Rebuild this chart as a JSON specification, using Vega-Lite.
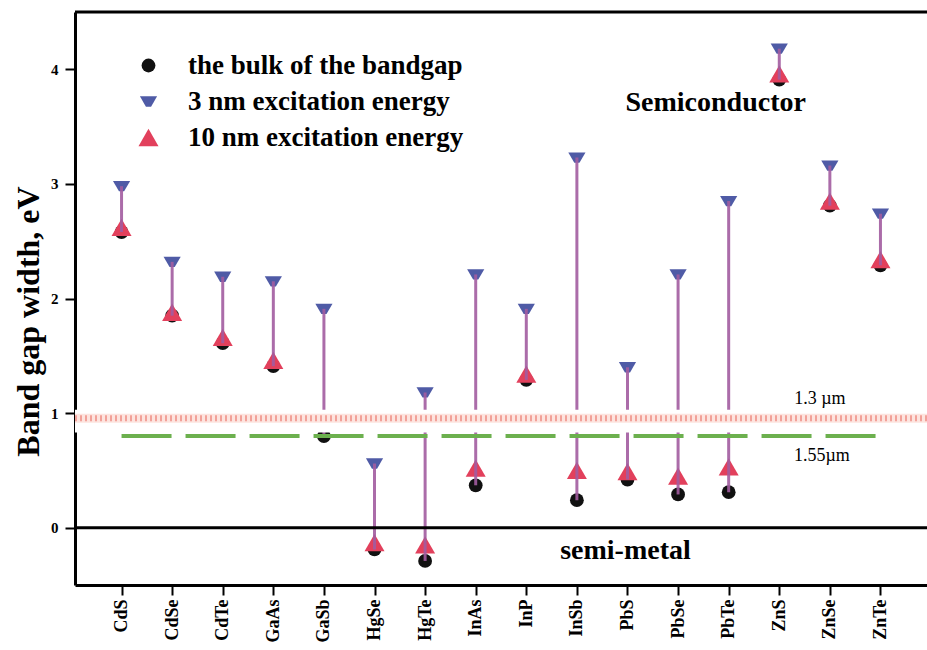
{
  "$schema": "https://vega.github.io/schema/vega-lite/v6.json",
  "width": 852,
  "height": 573,
  "autosize": {"type": "none"},
  "padding": {"left": 75, "top": 12, "right": 0, "bottom": 65},
  "background": "white",
  "config": {
    "view": {"stroke": null},
    "font": "Liberation Serif",
    "axis": {"zindex": 2}
  },
  "datasets": {
    "gaps": [
      {"compound": "CdS", "series": "the bulk of the bandgap", "energy": 2.58},
      {"compound": "CdS", "series": "3 nm excitation energy", "energy": 2.98},
      {"compound": "CdS", "series": "10 nm excitation energy", "energy": 2.62},
      {"compound": "CdSe", "series": "the bulk of the bandgap", "energy": 1.85},
      {"compound": "CdSe", "series": "3 nm excitation energy", "energy": 2.32},
      {"compound": "CdSe", "series": "10 nm excitation energy", "energy": 1.88},
      {"compound": "CdTe", "series": "the bulk of the bandgap", "energy": 1.61},
      {"compound": "CdTe", "series": "3 nm excitation energy", "energy": 2.19},
      {"compound": "CdTe", "series": "10 nm excitation energy", "energy": 1.66},
      {"compound": "GaAs", "series": "the bulk of the bandgap", "energy": 1.41},
      {"compound": "GaAs", "series": "3 nm excitation energy", "energy": 2.15},
      {"compound": "GaAs", "series": "10 nm excitation energy", "energy": 1.46},
      {"compound": "GaSb", "series": "the bulk of the bandgap", "energy": 0.8},
      {"compound": "GaSb", "series": "3 nm excitation energy", "energy": 1.91},
      {"compound": "HgSe", "series": "the bulk of the bandgap", "energy": -0.19},
      {"compound": "HgSe", "series": "3 nm excitation energy", "energy": 0.56},
      {"compound": "HgSe", "series": "10 nm excitation energy", "energy": -0.13},
      {"compound": "HgTe", "series": "the bulk of the bandgap", "energy": -0.29},
      {"compound": "HgTe", "series": "3 nm excitation energy", "energy": 1.18},
      {"compound": "HgTe", "series": "10 nm excitation energy", "energy": -0.15},
      {"compound": "InAs", "series": "the bulk of the bandgap", "energy": 0.37},
      {"compound": "InAs", "series": "3 nm excitation energy", "energy": 2.21},
      {"compound": "InAs", "series": "10 nm excitation energy", "energy": 0.52},
      {"compound": "InP", "series": "the bulk of the bandgap", "energy": 1.29},
      {"compound": "InP", "series": "3 nm excitation energy", "energy": 1.91},
      {"compound": "InP", "series": "10 nm excitation energy", "energy": 1.34},
      {"compound": "InSb", "series": "the bulk of the bandgap", "energy": 0.24},
      {"compound": "InSb", "series": "3 nm excitation energy", "energy": 3.23},
      {"compound": "InSb", "series": "10 nm excitation energy", "energy": 0.5},
      {"compound": "PbS", "series": "the bulk of the bandgap", "energy": 0.42},
      {"compound": "PbS", "series": "3 nm excitation energy", "energy": 1.4},
      {"compound": "PbS", "series": "10 nm excitation energy", "energy": 0.49},
      {"compound": "PbSe", "series": "the bulk of the bandgap", "energy": 0.29},
      {"compound": "PbSe", "series": "3 nm excitation energy", "energy": 2.21},
      {"compound": "PbSe", "series": "10 nm excitation energy", "energy": 0.45},
      {"compound": "PbTe", "series": "the bulk of the bandgap", "energy": 0.31},
      {"compound": "PbTe", "series": "3 nm excitation energy", "energy": 2.85},
      {"compound": "PbTe", "series": "10 nm excitation energy", "energy": 0.53},
      {"compound": "ZnS", "series": "the bulk of the bandgap", "energy": 3.91},
      {"compound": "ZnS", "series": "3 nm excitation energy", "energy": 4.18},
      {"compound": "ZnS", "series": "10 nm excitation energy", "energy": 3.96},
      {"compound": "ZnSe", "series": "the bulk of the bandgap", "energy": 2.81},
      {"compound": "ZnSe", "series": "3 nm excitation energy", "energy": 3.16},
      {"compound": "ZnSe", "series": "10 nm excitation energy", "energy": 2.85},
      {"compound": "ZnTe", "series": "the bulk of the bandgap", "energy": 2.29},
      {"compound": "ZnTe", "series": "3 nm excitation energy", "energy": 2.74},
      {"compound": "ZnTe", "series": "10 nm excitation energy", "energy": 2.34}
    ],
    "windows": [
      {"label": "1.3 µm", "energy": 0.954},
      {"label": "1.55µm", "energy": 0.8}
    ]
  },
  "data": {"name": "gaps"},
  "layer": [
    {
      "mark": {"type": "point", "filled": true, "opacity": 1, "strokeWidth": 0},
      "encoding": {
        "x": {
          "field": "compound",
          "type": "nominal",
          "sort": null,
          "scale": {
            "type": "point",
            "padding": 0.92,
            "domain": ["CdS", "CdSe", "CdTe", "GaAs", "GaSb", "HgSe", "HgTe", "InAs", "InP", "InSb", "PbS", "PbSe", "PbTe", "ZnS", "ZnSe", "ZnTe"]
          },
          "axis": {
            "title": null,
            "labelAngle": -90,
            "labelFont": "Liberation Serif",
            "labelFontWeight": "bold",
            "labelFontSize": 18,
            "labelColor": "black",
            "labelPadding": 4,
            "tickSize": 10,
            "tickWidth": 2,
            "tickColor": "black",
            "domainColor": "black",
            "domainWidth": 3,
            "grid": false
          }
        },
        "y": {
          "field": "energy",
          "type": "quantitative",
          "scale": {"domain": [-0.5, 4.5], "nice": false, "zero": false},
          "axis": {
            "title": "Band gap width, eV",
            "titleFont": "Liberation Serif",
            "titleFontWeight": "bold",
            "titleFontSize": 32,
            "titleColor": "black",
            "titleX": -30,
            "titleY": 309,
            "titleBaseline": "bottom",
            "values": [0, 1, 2, 3, 4],
            "format": "d",
            "labelFont": "Liberation Serif",
            "labelFontWeight": "bold",
            "labelFontSize": 15,
            "labelColor": "black",
            "labelPadding": 7,
            "tickSize": 10,
            "tickWidth": 2,
            "tickColor": "black",
            "domainColor": "black",
            "domainWidth": 3,
            "grid": false
          }
        },
        "color": {
          "field": "series",
          "type": "nominal",
          "scale": {
            "domain": ["the bulk of the bandgap", "3 nm excitation energy", "10 nm excitation energy"],
            "range": ["#111111", "#4f5ba6", "#e2405c"]
          },
          "legend": {
            "title": null, "orient": "none", "legendX": 60, "legendY": 40,
            "labelFont": "Liberation Serif", "labelFontWeight": "bold", "labelFontSize": 27,
            "labelColor": "black", "labelOffset": 26, "rowPadding": 8, "labelLimit": 600,
            "symbolStrokeWidth": 0, "padding": 0
          }
        },
        "shape": {
          "field": "series",
          "type": "nominal",
          "scale": {
            "domain": ["the bulk of the bandgap", "3 nm excitation energy", "10 nm excitation energy"],
            "range": ["circle", "M-1,-0.6L1,-0.6L0.3,0.6L-0.3,0.6Z", "triangle-up"]
          },
          "legend": {
            "title": null, "orient": "none", "legendX": 60, "legendY": 40,
            "labelFont": "Liberation Serif", "labelFontWeight": "bold", "labelFontSize": 27,
            "labelColor": "black", "labelOffset": 26, "rowPadding": 8, "labelLimit": 600,
            "symbolStrokeWidth": 0, "padding": 0
          }
        },
        "size": {
          "field": "series",
          "type": "nominal",
          "scale": {
            "domain": ["the bulk of the bandgap", "3 nm excitation energy", "10 nm excitation energy"],
            "range": [190, 400, 220]
          },
          "legend": {
            "title": null, "orient": "none", "legendX": 60, "legendY": 40,
            "labelFont": "Liberation Serif", "labelFontWeight": "bold", "labelFontSize": 27,
            "labelColor": "black", "labelOffset": 26, "rowPadding": 8, "labelLimit": 600,
            "symbolStrokeWidth": 0, "padding": 0
          }
        },
        "order": {"field": "series", "sort": "descending"}
      }
    },
    {
      "transform": [
        {
          "aggregate": [
            {"op": "min", "field": "energy", "as": "low"},
            {"op": "max", "field": "energy", "as": "high"}
          ],
          "groupby": ["compound"]
        }
      ],
      "mark": {"type": "rule", "color": "#a25ca0", "strokeWidth": 3, "opacity": 0.9},
      "encoding": {
        "x": {"field": "compound", "type": "nominal"},
        "y": {"field": "low", "type": "quantitative"},
        "y2": {"field": "high"}
      }
    },
    {
      "data": {"values": [{}]},
      "mark": {"type": "rect", "fill": "white"},
      "encoding": {
        "y": {"datum": 0.83},
        "y2": {"datum": 1.03}
      }
    },
    {
      "data": {"name": "windows"},
      "transform": [{"filter": "datum.energy > 0.9"}],
      "layer": [
        {
          "mark": {"type": "rule", "color": "#fde4df", "strokeWidth": 9},
          "encoding": {"y": {"field": "energy", "type": "quantitative"}}
        },
        {
          "mark": {"type": "rule", "color": "#f2a199", "strokeWidth": 6, "strokeDash": [2, 3]},
          "encoding": {"y": {"field": "energy", "type": "quantitative"}}
        },
        {
          "mark": {"type": "text", "font": "Liberation Serif", "fontSize": 18, "color": "black", "align": "center", "baseline": "alphabetic", "dx": -10, "dy": -14},
          "encoding": {
            "x": {"datum": "ZnSe"},
            "y": {"field": "energy", "type": "quantitative"},
            "text": {"field": "label"}
          }
        }
      ]
    },
    {
      "data": {"name": "windows"},
      "transform": [{"filter": "datum.energy < 0.9"}],
      "layer": [
        {
          "mark": {"type": "rule", "color": "#6cb04e", "strokeWidth": 4, "strokeDash": [50, 14]},
          "encoding": {
            "x": {"datum": "CdS"},
            "x2": {"datum": "ZnTe"},
            "y": {"field": "energy", "type": "quantitative"}
          }
        },
        {
          "mark": {"type": "text", "font": "Liberation Serif", "fontSize": 18, "color": "black", "align": "center", "baseline": "alphabetic", "dx": -8, "dy": 25},
          "encoding": {
            "x": {"datum": "ZnSe"},
            "y": {"field": "energy", "type": "quantitative"},
            "text": {"field": "label"}
          }
        }
      ]
    },
    {
      "data": {"values": [{}]},
      "mark": {"type": "rule", "color": "black", "strokeWidth": 3},
      "encoding": {"y": {"datum": 0}}
    },
    {
      "data": {"values": [{}]},
      "mark": {"type": "rule", "color": "black", "strokeWidth": 3},
      "encoding": {"y": {"datum": 4.5}}
    },
    {
      "data": {"values": [{}]},
      "mark": {"type": "text", "font": "Liberation Serif", "fontWeight": "bold", "fontSize": 28, "color": "black", "align": "left", "baseline": "alphabetic", "dx": -2},
      "encoding": {
        "x": {"datum": "PbS"},
        "y": {"datum": 3.64},
        "text": {"value": "Semiconductor"}
      }
    },
    {
      "data": {"values": [{}]},
      "mark": {"type": "text", "font": "Liberation Serif", "fontWeight": "bold", "fontSize": 28, "color": "black", "align": "center", "baseline": "alphabetic", "dx": -2},
      "encoding": {
        "x": {"datum": "PbS"},
        "y": {"datum": -0.27},
        "text": {"value": "semi-metal"}
      }
    }
  ]
}
